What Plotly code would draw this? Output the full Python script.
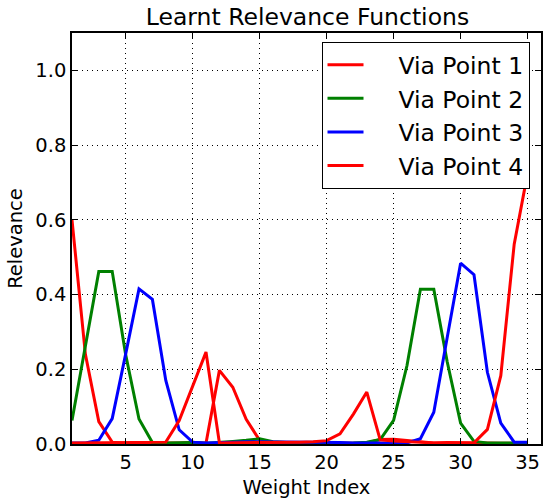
import plotly.graph_objects as go

# Weight indices 1..35
weight_index = list(range(1, 36))

via_point_1 = [0.600, 0.240, 0.060, 0.005, 0.002, 0.003, 0.002, 0.003, 0.003, 0.005,
               0.002, 0.197, 0.152, 0.066, 0.010, 0.004, 0.003, 0.004, 0.003, 0.003,
               0.002, 0.002, 0.003, 0.012, 0.013, 0.010, 0.006, 0.003, 0.004, 0.003,
               0.002, 0.002, 0.002, 0.002, 0.002]

via_point_2 = [0.063, 0.260, 0.462, 0.462, 0.240, 0.067, 0.004, 0.003, 0.004, 0.004,
               0.002, 0.004, 0.007, 0.010, 0.014, 0.006, 0.003, 0.002, 0.002, 0.002,
               0.002, 0.003, 0.005, 0.012, 0.063, 0.210, 0.414, 0.414, 0.220, 0.056,
               0.007, 0.003, 0.003, 0.003, 0.003]

via_point_3 = [0.003, 0.003, 0.010, 0.068, 0.240, 0.415, 0.387, 0.170, 0.038, 0.005,
               0.003, 0.003, 0.005, 0.006, 0.006, 0.005, 0.004, 0.004, 0.004, 0.004,
               0.004, 0.003, 0.003, 0.003, 0.003, 0.003, 0.014, 0.085, 0.285, 0.484,
               0.453, 0.192, 0.056, 0.005, 0.005]

via_point_4 = [0.003, 0.003, 0.003, 0.003, 0.003, 0.003, 0.003, 0.005, 0.063, 0.156,
               0.246, 0.003, 0.003, 0.003, 0.003, 0.003, 0.004, 0.005, 0.006, 0.009,
               0.027, 0.080, 0.139, 0.011, 0.008, 0.006, 0.004, 0.003, 0.003, 0.003,
               0.003, 0.039, 0.183, 0.535, 0.725]

series = [
    ("Via Point 1", via_point_1, "#ff0000"),
    ("Via Point 2", via_point_2, "#008000"),
    ("Via Point 3", via_point_3, "#0000ff"),
    ("Via Point 4", via_point_4, "#ff0000"),
]

FONT = "DejaVu Sans"
NB = "\u00a0"

fig = go.Figure()
for i, (name, vals, color) in enumerate(series):
    fig.add_trace(go.Scatter(
        x=weight_index, y=vals, mode="lines", name=NB * 4 + name,
        line=dict(color=color, width=3),
    ))

axis_common = dict(
    showline=True, linecolor="black", linewidth=1.5, mirror="allticks",
    ticks="inside", ticklen=6, tickwidth=1, tickcolor="black",
    showgrid=True, gridcolor="black", gridwidth=1, griddash="1px,4px",
    zeroline=False,
    tickfont=dict(family=FONT, size=19.5, color="black"),
)

fig.update_xaxes(
    range=[1, 36], tickvals=[5, 10, 15, 20, 25, 30, 35],
    title=dict(text="Weight Index", font=dict(family=FONT, size=19.5, color="black"), standoff=8),
    **axis_common,
)
fig.update_yaxes(
    range=[0, 1.1], tickvals=[0, 0.2, 0.4, 0.6, 0.8, 1.0], tickformat=".1f",
    title=dict(text="Relevance", font=dict(family=FONT, size=19.5, color="black"), standoff=8),
    **axis_common,
)

fig.update_layout(
    width=545, height=499,
    margin=dict(l=72, r=2, t=33, b=55),
    paper_bgcolor="white", plot_bgcolor="white",
    font=dict(family=FONT, color="black"),
    title=dict(text="Learnt Relevance Functions", x=0.5642, xanchor="center",
               y=0.966, yanchor="middle", yref="container",
               font=dict(family=FONT, size=23.5, color="black")),
    legend=dict(
        x=0.532, y=0.978, xanchor="left", yanchor="top",
        bgcolor="white", bordercolor="black", borderwidth=1,
        font=dict(family=FONT, size=23.5, color="black"),
        itemwidth=36,
    ),
    showlegend=True,
)

fig.write_html("out.html")
